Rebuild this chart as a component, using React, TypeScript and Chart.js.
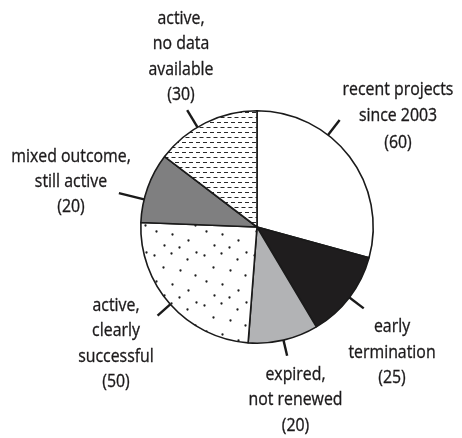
import React, { useEffect, useRef } from "react";
import { Chart, registerables } from "chart.js";

Chart.register(...registerables);

// ---- data ----
const categories = [
  "recent projects since 2003",
  "early termination",
  "expired, not renewed",
  "active, clearly successful",
  "mixed outcome, still active",
  "active, no data available",
];
const values = [60, 25, 20, 50, 20, 30];
const labelLines = [
  ["recent projects", "since 2003"],
  ["early", "termination"],
  ["expired,", "not renewed"],
  ["active,", "clearly", "successful"],
  ["mixed outcome,", "still active"],
  ["active,", "no data", "available"],
];

// ---- presentation ----
const fills = ["#ffffff", "#1f1d1e", "#b2b3b5", "dots", "#7f7f80", "dashes"];
const labelLayout = [
  { x: 398, y: 94.5, gap: 26.5, angleOffset: -15, leader: 19 },
  { x: 392, y: 332, gap: 25.5, angleOffset: 0, leader: 18 },
  { x: 295.5, y: 380, gap: 25.3, angleOffset: 0, leader: 16 },
  { x: 116, y: 311, gap: 25.3, angleOffset: 0, leader: 17 },
  { x: 71, y: 161.5, gap: 25.1, angleOffset: -6, leader: 26 },
  { x: 181, y: 23.5, gap: 25.5, angleOffset: -4.5, leader: 20 },
];
const TEXT_COLOR = "#1c1a1b";
const FONT = "19px 'Open Sans'";
const XSCALE = 0.835;

function makeDashPattern(): CanvasPattern | string {
  const c = document.createElement("canvas");
  c.width = 14;
  c.height = 10;
  const g = c.getContext("2d");
  if (!g) return "#fff";
  g.fillStyle = "#fff";
  g.fillRect(0, 0, 14, 10);
  g.strokeStyle = "#2a2a2a";
  g.lineWidth = 1;
  g.beginPath();
  g.moveTo(0, 2.5); g.lineTo(4, 2.5);
  g.moveTo(7, 2.5); g.lineTo(11, 2.5);
  g.moveTo(3.5, 7.5); g.lineTo(7.5, 7.5);
  g.moveTo(10.5, 7.5); g.lineTo(14, 7.5);
  g.moveTo(0, 7.5); g.lineTo(0.5, 7.5);
  g.stroke();
  const p = g.createPattern(c, "repeat");
  return p || "#fff";
}

function makeDotPattern(): CanvasPattern | string {
  const c = document.createElement("canvas");
  c.width = 50;
  c.height = 50;
  const g = c.getContext("2d");
  if (!g) return "#fff";
  g.fillStyle = "#fff";
  g.fillRect(0, 0, 50, 50);
  g.fillStyle = "#1e1e1e";
  const pts = [
    [4, 5], [21, 3], [37, 9], [13, 17], [30, 20], [45, 25],
    [6, 31], [22, 34], [38, 40], [14, 45], [29, 47], [46, 2],
  ];
  for (const [x, y] of pts) {
    g.beginPath();
    g.arc(x + 0.5, y + 0.5, 1.15, 0, Math.PI * 2);
    g.fill();
  }
  const p = g.createPattern(c, "repeat");
  return p || "#fff";
}

const labelPlugin = {
  id: "pieLabels",
  afterDraw(chart: any) {
    const ctx = chart.ctx as CanvasRenderingContext2D;
    const meta = chart.getDatasetMeta(0);
    ctx.save();
    meta.data.forEach((arc: any, i: number) => {
      const lay = labelLayout[i];
      const { x, y, startAngle, endAngle, outerRadius } = arc.getProps(
        ["x", "y", "startAngle", "endAngle", "outerRadius"],
        true
      );
      const mid = (startAngle + endAngle) / 2 + (lay.angleOffset * Math.PI) / 180;
      const r0 = outerRadius;
      const r1 = outerRadius + lay.leader;
      ctx.beginPath();
      ctx.moveTo(x + Math.cos(mid) * r0, y + Math.sin(mid) * r0);
      ctx.lineTo(x + Math.cos(mid) * r1, y + Math.sin(mid) * r1);
      ctx.strokeStyle = "#1a1a1a";
      ctx.lineWidth = 2.4;
      ctx.lineCap = "butt";
      ctx.stroke();

      const lines = [...labelLines[i], `(${values[i]})`];
      ctx.fillStyle = TEXT_COLOR;
      ctx.strokeStyle = TEXT_COLOR;
      ctx.lineWidth = 0.35;
      ctx.font = FONT;
      ctx.textAlign = "center";
      ctx.textBaseline = "alphabetic";
      lines.forEach((t, k) => {
        ctx.save();
        ctx.translate(lay.x, lay.y + k * lay.gap);
        ctx.scale(XSCALE, 1);
        ctx.fillText(t, 0, 0);
        ctx.strokeText(t, 0, 0);
        ctx.restore();
      });
    });
    ctx.restore();
  },
};

export default function App() {
  const ref = useRef<HTMLCanvasElement | null>(null);
  useEffect(() => {
    if (!ref.current) return;
    const bg = fills.map((f) =>
      f === "dots" ? makeDotPattern() : f === "dashes" ? makeDashPattern() : f
    );
    const chart = new Chart(ref.current, {
      type: "pie",
      data: {
        labels: categories,
        datasets: [
          {
            data: values,
            backgroundColor: bg as any,
            borderColor: "#1a1a1a",
            borderWidth: 1.6,
          },
        ],
      },
      options: {
        animation: false,
        responsive: false,
        events: [],
        layout: { padding: { left: 140, top: 110, right: 88, bottom: 94 } },
        plugins: {
          legend: { display: false },
          tooltip: { enabled: false },
        },
      },
      plugins: [labelPlugin],
    });
    return () => chart.destroy();
  }, []);
  return (
    <div style={{ position: "fixed", left: 0, top: 0, width: 462, height: 438, background: "#fff" }}>
      <canvas ref={ref} width={462} height={438} style={{ display: "block" }} />
    </div>
  );
}
